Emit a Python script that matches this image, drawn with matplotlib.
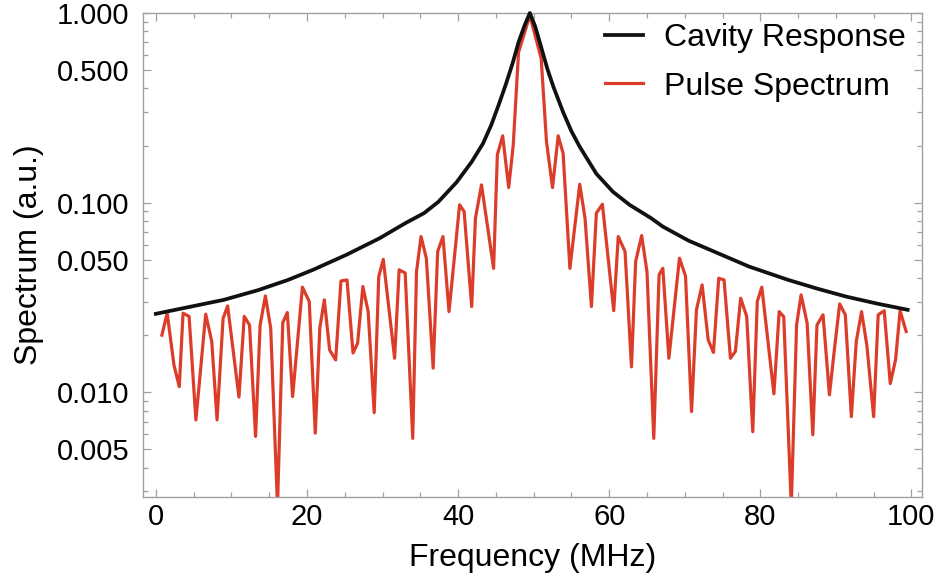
import matplotlib
matplotlib.use('Agg')
import matplotlib.pyplot as plt
import matplotlib.ticker as ticker

# Cavity response (black)
cavity_freq = [0.0, 4.5, 9.0, 13.5, 17.5, 20.8, 25.2, 29.6, 33.0, 35.5, 37.4, 39.8,
               41.8, 43.3, 44.4, 45.4, 46.3, 47.2, 48.0, 48.8, 49.5, 50.2, 51.0,
               51.8, 52.6, 53.9, 55.0, 56.1, 58.3, 60.5, 62.7, 65.5, 67.1, 70.5,
               74.9, 78.5, 83.7, 87.5, 91.4, 95.5, 99.5]
cavity_resp = [0.0259, 0.0282, 0.0307, 0.0345, 0.0391, 0.0442, 0.053, 0.0648, 0.0778,
               0.088, 0.101, 0.128, 0.164, 0.205, 0.257, 0.33, 0.418, 0.54, 0.70,
               0.86, 1.0, 0.85, 0.66, 0.51, 0.41, 0.30, 0.238, 0.197, 0.142, 0.114,
               0.0973, 0.0830, 0.0747, 0.063, 0.053, 0.046, 0.0391, 0.0352, 0.0319,
               0.0293, 0.0272]

# Pulse spectrum (red), vertices
pulse_freq = [0.8, 1.5, 2.4, 3.1, 3.6, 4.4, 5.3, 6.6, 7.4, 8.1, 8.9, 9.5, 11.0, 11.7,
              12.4, 13.2, 13.8, 14.5, 15.2, 16.1, 16.8, 17.4, 18.1, 19.4, 20.3, 21.1,
              21.7, 22.3, 23.0, 23.8, 24.5, 25.3, 26.1, 26.7, 27.4, 28.1, 28.9, 29.5,
              30.1, 31.6, 32.2, 33.0, 34.0, 34.5, 35.1, 35.8, 36.7, 37.3, 38.0, 38.8,
              40.2, 40.8, 41.8, 42.3, 43.1, 44.7, 45.2, 45.9, 46.7, 47.3, 48.0, 49.5,
              51.0, 51.7, 52.5, 53.25, 53.9, 54.8, 56.1, 56.8, 57.65, 58.3, 59.1, 60.6,
              61.2, 62.1, 62.95, 63.5, 64.3, 65.0, 65.9, 66.6, 67.1, 67.9, 69.3, 70.1,
              70.9, 71.55, 72.3, 73.1, 73.8, 74.5, 75.2, 76.05, 76.7, 77.4, 78.2, 79.0,
              79.6, 80.2, 81.8, 82.5, 83.1, 84.1, 84.8, 85.4, 86.2, 86.95, 87.5, 88.3,
              89.15, 89.8, 90.5, 91.25, 92.05, 92.7, 93.4, 94.1, 95.0, 95.6, 96.4,
              97.2, 97.9, 98.5, 99.3]
pulse_spec = [0.0200, 0.0261, 0.0139, 0.0107, 0.0261, 0.0251, 0.00714, 0.0258, 0.0185,
              0.00714, 0.0245, 0.0285, 0.00942, 0.0251, 0.0226, 0.00584, 0.0226, 0.0322,
              0.0218, 0.0025, 0.0233, 0.0263, 0.00948, 0.0358, 0.0301, 0.00608, 0.0218,
              0.0307, 0.0167, 0.0148, 0.0386, 0.0391, 0.0161, 0.0181, 0.0361, 0.0266,
              0.0078, 0.0407, 0.0502, 0.0151, 0.0442, 0.0425, 0.00571, 0.0433, 0.0662,
              0.0509, 0.0134, 0.0552, 0.0662, 0.0266, 0.0973, 0.0897, 0.0283, 0.0828,
              0.124, 0.0450, 0.179, 0.225, 0.120, 0.201, 0.62, 0.97,
              0.576, 0.210, 0.120, 0.225, 0.182, 0.045, 0.125, 0.0828, 0.0283, 0.0879,
              0.098, 0.0269, 0.0662, 0.0552, 0.0136, 0.0489, 0.067, 0.0433, 0.00571,
              0.0416, 0.0450, 0.0151, 0.0509, 0.0410, 0.0079, 0.0272, 0.0368, 0.0189,
              0.0162, 0.0399, 0.0391, 0.0151, 0.0164, 0.0313, 0.0251, 0.00619, 0.0301,
              0.0358, 0.0098, 0.0266, 0.0250, 0.0025, 0.0226, 0.0326, 0.0231, 0.00596,
              0.0226, 0.0256, 0.00968, 0.0167, 0.0292, 0.0256, 0.00743, 0.0185, 0.0266,
              0.0177, 0.00743, 0.0256, 0.0269, 0.0111, 0.0148, 0.0269, 0.0209]

y_ticks = [0.005, 0.01, 0.05, 0.1, 0.5, 1.0]
x_ticks = [0, 20, 40, 60, 80, 100]

plt.rcParams['font.family'] = ['Liberation Sans', 'DejaVu Sans']

fig = plt.figure(figsize=(9.43, 5.81), dpi=100)
ax = fig.add_axes([143 / 943, 1 - 497 / 581, 779 / 943, 484 / 581])

red = '#dc3d2a'
frame_color = '#a0a0a0'

ax.plot(pulse_freq, pulse_spec, color=red, lw=2.3, label='Pulse Spectrum', zorder=2)
ax.plot(cavity_freq, cavity_resp, color='#111111', lw=2.7, label='Cavity Response',
        zorder=3, clip_on=False)

ax.set_yscale('log')
ax.set_xlim(-1.7, 101.4)
ax.set_ylim(0.0028, 1.0)

# Ticks
ax.xaxis.set_major_locator(ticker.FixedLocator(x_ticks))
ax.xaxis.set_minor_locator(ticker.MultipleLocator(5))
ax.yaxis.set_major_locator(ticker.FixedLocator(y_ticks))
ax.yaxis.set_major_formatter(ticker.FuncFormatter(lambda v, _: '{:.3f}'.format(v)))
ax.yaxis.set_minor_locator(ticker.LogLocator(subs=range(1, 10), numticks=20))
ax.yaxis.set_minor_formatter(ticker.NullFormatter())

ax.tick_params(which='both', direction='in', top=True, right=True, color=frame_color,
               width=0.9)
ax.tick_params(which='major', length=6)
ax.tick_params(which='minor', length=3.5)
ax.tick_params(axis='x', which='major', labelsize=21, pad=4)
ax.tick_params(axis='y', which='major', labelsize=21, pad=10)

for spine in ax.spines.values():
    spine.set_color(frame_color)
    spine.set_linewidth(1.0)

ax.set_xlabel('Frequency (MHz)', fontsize=23, labelpad=9)
ax.set_ylabel('Spectrum (a.u.)', fontsize=23, labelpad=9)

# Legend, cavity first
handles, labels = ax.get_legend_handles_labels()
ax.legend(handles[::-1], labels[::-1], loc='upper left', frameon=False, fontsize=23,
          bbox_to_anchor=(605 / 943, 1 - 23 / 581), bbox_transform=fig.transFigure,
          borderpad=0, handlelength=1.2, handletextpad=0.65, labelspacing=0.58,
          borderaxespad=0)

fig.savefig('out.png', dpi=100)
